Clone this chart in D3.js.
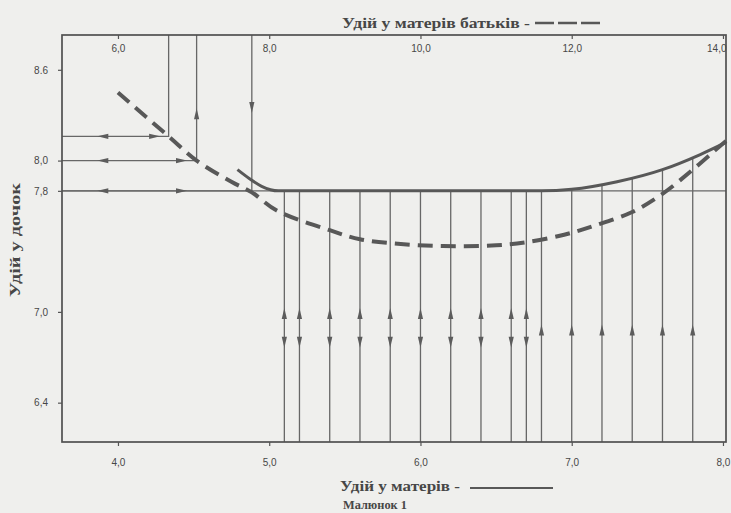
<!DOCTYPE html>
<html><head><meta charset="utf-8">
<script src="https://cdn.jsdelivr.net/npm/d3@7"></script>
<style>html,body{margin:0;padding:0;background:#efefed;} svg{display:block}</style>
</head><body>
<svg id="chart" width="731" height="513"></svg>
<script>
// ---------------- data ----------------
const yTickValues = [6.4, 7.0, 7.8, 8.0, 8.6];
const yTickLabels = ["6,4", "7,0", "7,8", "8,0", "8.6"];
const bottomTickValues = [4, 5, 6, 7, 8];
const bottomTickLabels = ["4,0", "5,0", "6,0", "7,0", "8,0"];
const topTickValues = [6, 8, 10, 12, 14];
const topTickLabels = ["6,0", "8,0", "10,0", "12,0", "14,0"];

// Удій у матерів батьків (top axis) — dashed curve
const sireDamX = [6.0, 6.67, 7.04, 7.5, 7.77, 8.1, 8.8, 9.2, 9.7, 10.3, 11.0, 11.4, 11.9, 12.3, 12.8, 13.2, 13.6, 13.9, 14.04];
const sireDamY = [8.45, 8.16, 8.0, 7.86, 7.79, 7.67, 7.54, 7.48, 7.45, 7.435, 7.44, 7.46, 7.51, 7.57, 7.66, 7.78, 7.94, 8.07, 8.13];

// Удій у матерів (bottom axis) — solid curve
const damX = [4.79, 4.87, 4.95, 5.06, 5.5, 6.0, 6.5, 6.8, 7.0, 7.3, 7.6, 7.85, 8.02];
const damY = [7.94, 7.88, 7.83, 7.80, 7.80, 7.80, 7.80, 7.80, 7.81, 7.86, 7.94, 8.04, 8.12];

const thresholdY = 7.8;

// guide lines from the top axis down to the dashed curve, then to the y axis
const guideTopX = [6.67, 7.04, 7.77];
const guideY = [8.16, 8.0, 7.8];
const guideArrow = ["none", "up", "down"];

// vertical lines from the bottom axis up to the solid curve
const damLines = [5.1, 5.2, 5.4, 5.6, 5.8, 6.0, 6.2, 6.4, 6.6, 6.7, 6.8, 7.0, 7.2, 7.4, 7.6, 7.8];
const damLineArrows = ["both","both","both","both","both","both","both","both","both","both","up","up","up","up","up","up"];

// ---------------- layout / style ----------------
const L = 62, R = 726, T = 35, B = 442;
const LINE = "#676767", CURVE = "#585858", TEXT = "#474747";
const x = d3.scaleLinear().domain([3.63, 8.02]).range([L, R]);
const xTop = d3.scaleLinear().domain([5.26, 14.04]).range([L, R]);
const y = d3.scaleLinear().domain([6.14, 8.83]).range([B, T]);

const svg = d3.select("#chart");
svg.append("rect").attr("width", 731).attr("height", 513).attr("fill", "#efefed");

const g = svg.append("g");

function arrow(cx, cy, dir) {
  const len = 11, hw = 2.6;
  let p;
  if (dir === "up") p = [[cx, cy - len/2], [cx - hw, cy + len/2], [cx + hw, cy + len/2]];
  else if (dir === "down") p = [[cx, cy + len/2], [cx - hw, cy - len/2], [cx + hw, cy - len/2]];
  else if (dir === "left") p = [[cx - len/2, cy], [cx + len/2, cy - hw], [cx + len/2, cy + hw]];
  else p = [[cx + len/2, cy], [cx - len/2, cy - hw], [cx - len/2, cy + hw]];
  g.append("path").attr("d", "M" + p.map(q => q.join(",")).join("L") + "Z")
    .attr("fill", "#5c5c5c");
}

// threshold line 7.8 across the plot
g.append("line").attr("x1", L).attr("x2", R).attr("y1", y(thresholdY)).attr("y2", y(thresholdY))
  .attr("stroke", LINE).attr("stroke-width", 1.3);

// guides (top axis)
guideTopX.forEach((gx, i) => {
  const px = xTop(gx), py = y(guideY[i]);
  g.append("path").attr("d", `M${px},${T}L${px},${py}L${L},${py}`)
    .attr("fill", "none").attr("stroke", LINE).attr("stroke-width", 1.3);
  arrow(x(3.90), py, "left");
  arrow(Math.min(px - 14, x(4.42)), py, "right");
  if (guideArrow[i] === "up") arrow(px, y(8.31), "up");
  if (guideArrow[i] === "down") arrow(px, y(8.35), "down");
});

// dam lines (bottom axis)
function damAt(v) {
  for (let i = 0; i < damX.length - 1; i++) {
    if (v >= damX[i] && v <= damX[i+1]) {
      const t = (v - damX[i]) / (damX[i+1] - damX[i]);
      return damY[i] + t * (damY[i+1] - damY[i]);
    }
  }
  return damY[damY.length - 1];
}
damLines.forEach((v, i) => {
  const px = x(v);
  g.append("line").attr("x1", px).attr("x2", px).attr("y1", B).attr("y2", y(damAt(v)))
    .attr("stroke", LINE).attr("stroke-width", 1.3);
  if (damLineArrows[i] === "both") { arrow(px, y(6.99), "up"); arrow(px, y(6.80), "down"); }
  else arrow(px, y(6.88), "up");
});

// curves
const dashedLine = d3.line().x(d => xTop(d[0])).y(d => y(d[1])).curve(d3.curveCatmullRom.alpha(0.5));
g.append("path").attr("d", dashedLine(sireDamX.map((v, i) => [v, sireDamY[i]])))
  .attr("fill", "none").attr("stroke", CURVE).attr("stroke-width", 4)
  .attr("stroke-dasharray", "15,8");
const solidLine = d3.line().x(d => x(d[0])).y(d => y(d[1])).curve(d3.curveMonotoneX);
g.append("path").attr("d", solidLine(damX.map((v, i) => [v, damY[i]])))
  .attr("fill", "none").attr("stroke", CURVE).attr("stroke-width", 3);

// frame
g.append("rect").attr("x", L).attr("y", T).attr("width", R - L).attr("height", B - T)
  .attr("fill", "none").attr("stroke", "#505050").attr("stroke-width", 1.7);

// axes
const tickFont = "'Liberation Sans', Arial, sans-serif";
const yAxis = svg.append("g").attr("transform", `translate(${L},0)`)
  .call(d3.axisLeft(y).tickValues(yTickValues).tickFormat((d, i) => yTickLabels[i]).tickSize(4).tickPadding(10));
const xAxis = svg.append("g").attr("transform", `translate(0,${B})`)
  .call(d3.axisBottom(x).tickValues(bottomTickValues).tickFormat((d, i) => bottomTickLabels[i]).tickSize(4));
const tAxis = svg.append("g").attr("transform", `translate(0,${T})`)
  .call(d3.axisTop(xTop).tickValues(topTickValues).tickFormat((d, i) => topTickLabels[i]).tickSize(-4));
[yAxis, xAxis, tAxis].forEach(a => {
  a.select(".domain").remove();
  a.selectAll("line").attr("stroke", "#555").attr("stroke-width", 1.2);
  a.selectAll("text").attr("fill", TEXT).style("font-family", tickFont).style("font-size", "10px");
});
xAxis.selectAll("text").attr("y", 24).attr("dy", 0);
tAxis.selectAll("text").attr("y", 17).attr("dy", 0);
tAxis.selectAll(".tick").filter((d, i) => i === topTickValues.length - 1)
  .select("text").attr("text-anchor", "end").attr("x", 3);

// titles
const serif = "'Liberation Serif', 'DejaVu Serif', serif";
svg.append("text").attr("x", 342).attr("y", 28).attr("textLength", 188).attr("lengthAdjust", "spacingAndGlyphs")
  .attr("fill", TEXT).style("font-family", serif).style("font-size", "15px").style("font-weight", "bold")
  .text("Удій у матерів батьків -");
svg.append("line").attr("x1", 535).attr("x2", 600).attr("y1", 23).attr("y2", 23)
  .attr("stroke", CURVE).attr("stroke-width", 2.5).attr("stroke-dasharray", "19,4");

svg.append("text").attr("x", 340).attr("y", 491).attr("textLength", 120).attr("lengthAdjust", "spacingAndGlyphs")
  .attr("fill", TEXT).style("font-family", serif).style("font-size", "15px").style("font-weight", "bold")
  .text("Удій у матерів -");
svg.append("line").attr("x1", 470).attr("x2", 553).attr("y1", 488).attr("y2", 488)
  .attr("stroke", CURVE).attr("stroke-width", 2);

svg.append("text").attr("x", 343).attr("y", 509).attr("textLength", 64).attr("lengthAdjust", "spacingAndGlyphs")
  .attr("fill", TEXT).style("font-family", serif).style("font-size", "12px").style("font-weight", "bold")
  .text("Малюнок 1");

svg.append("text").attr("transform", "translate(20,240) rotate(-90)").attr("text-anchor", "middle")
  .attr("textLength", 114).attr("lengthAdjust", "spacingAndGlyphs")
  .attr("fill", TEXT).style("font-family", serif).style("font-size", "14px").style("font-weight", "bold")
  .text("Удій у дочок");
</script>
</body></html>
